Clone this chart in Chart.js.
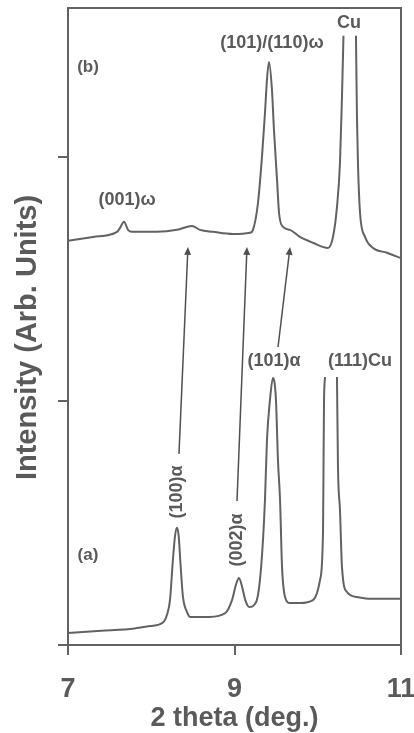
<!DOCTYPE html>
<html>
<head>
<meta charset="utf-8">
<script src="https://cdn.jsdelivr.net/npm/chart.js@4/dist/chart.umd.min.js"></script>
<style>
  html, body { margin: 0; padding: 0; background: #fff; }
  #wrap { width: 414px; height: 733px; }
</style>
</head>
<body>
<div id="wrap"><canvas id="xrd" width="414" height="733"></canvas></div>
<script>
const xTicks = [7, 9, 11];
const yTicks = [0, 1, 2];

// pattern (a) - alpha phase, bottom trace (null = top of the cut Cu peak)
const aX = [7.00, 7.40, 7.80, 7.99, 8.14, 8.19, 8.225, 8.26, 8.285, 8.309, 8.33, 8.35, 8.38, 8.43, 8.47,
  8.70, 8.89, 8.97, 9.02, 9.054, 9.09, 9.13, 9.175, 9.26, 9.32, 9.366, 9.39, 9.426, 9.462, 9.498,
  9.522, 9.547, 9.571, 9.607, 9.667, 9.787, 9.943, 10.027, 10.063, 10.069, 10.075, 10.087, 10.16,
  10.231, 10.243, 10.267, 10.291, 10.351, 10.471, 10.627, 11.00];
const aY = [0.049, 0.058, 0.068, 0.078, 0.092, 0.125, 0.184, 0.348, 0.445, 0.480, 0.445, 0.340, 0.200, 0.135, 0.115,
  0.115, 0.131, 0.184, 0.250, 0.275, 0.240, 0.184, 0.156, 0.176, 0.320, 0.594, 0.840, 1.004, 1.094, 1.004,
  0.758, 0.594, 0.320, 0.197, 0.172, 0.172, 0.184, 0.266, 0.459, 0.717, 0.992, 1.098, null,
  1.098, 0.730, 0.553, 0.320, 0.217, 0.197, 0.189, 0.189];

// pattern (b) - omega phase, top trace
const bX = [7.00, 7.30, 7.589, 7.625, 7.673, 7.721, 7.769, 8.069, 8.309, 8.489, 8.586, 8.742, 8.982, 9.186,
  9.222, 9.282, 9.330, 9.366, 9.390, 9.414, 9.450, 9.474, 9.511, 9.535, 9.583, 9.667, 9.787, 9.943,
  10.123, 10.183, 10.231, 10.267, 10.291, 10.309, 10.38, 10.459, 10.471, 10.483, 10.508, 10.568,
  10.664, 10.832, 11.00];
const bY = [1.656, 1.672, 1.693, 1.709, 1.734, 1.701, 1.693, 1.693, 1.701, 1.717, 1.701, 1.693, 1.684, 1.689,
  1.701, 1.811, 2.000, 2.180, 2.316, 2.389, 2.275, 2.111, 1.906, 1.770, 1.713, 1.701, 1.672, 1.648,
  1.627, 1.672, 1.795, 1.975, 2.246, 2.496, null, 2.496, 2.164, 1.975, 1.770, 1.672,
  1.627, 1.607, 1.585];

// peak labels
const noteText = ['(b)', 'Cu', '(101)/(110)\u03c9', '(001)\u03c9', '(101)\u03b1', '(111)Cu', '(100)\u03b1', '(002)\u03b1', '(a)'];
const noteX = [7.24, 10.375, 9.45, 7.709, 9.474, 10.508, 8.309, 9.030, 7.24];
const noteY = [2.369, 2.549, 2.467, 1.824, 1.165, 1.165, 0.627, 0.430, 0.369];
const noteTurn = [0, 0, 0, 0, 0, 0, 1, 1, 0];

// arrows from the alpha peaks up to pattern (b)
const arrowX0 = [8.333, 9.030, 9.523];
const arrowY0 = [0.783, 0.590, 1.221];
const arrowX1 = [8.441, 9.150, 9.667];
const arrowY1 = [1.631, 1.631, 1.631];

const yTitle = 'Intensity (Arb. Units)';

const INK = '#626262';
const TEXT = '#5a5a5a';
const FONT = "'Liberation Sans', Arial, sans-serif";

const toPts = (xs, ys) => xs.map((x, i) => ({ x: x, y: ys[i] }));

const extras = {
  id: 'extras',
  afterDraw(chart) {
    const { ctx, chartArea: a, scales: { x, y } } = chart;
    ctx.save();
    ctx.strokeStyle = INK;
    ctx.lineWidth = 2;
    ctx.strokeRect(a.left, a.top, a.right - a.left, a.bottom - a.top);

    // arrows
    ctx.fillStyle = '#505050';
    ctx.strokeStyle = '#505050';
    ctx.lineWidth = 1.5;
    arrowX0.forEach((v, i) => {
      const x0 = x.getPixelForValue(v), y0 = y.getPixelForValue(arrowY0[i]);
      const x1 = x.getPixelForValue(arrowX1[i]), y1 = y.getPixelForValue(arrowY1[i]);
      const ang = Math.atan2(y1 - y0, x1 - x0);
      ctx.beginPath();
      ctx.moveTo(x0, y0);
      ctx.lineTo(x1 - 5 * Math.cos(ang), y1 - 5 * Math.sin(ang));
      ctx.stroke();
      ctx.beginPath();
      ctx.moveTo(x1, y1);
      ctx.lineTo(x1 - 8 * Math.cos(ang) + 3.5 * Math.sin(ang), y1 - 8 * Math.sin(ang) - 3.5 * Math.cos(ang));
      ctx.lineTo(x1 - 8 * Math.cos(ang) - 3.5 * Math.sin(ang), y1 - 8 * Math.sin(ang) + 3.5 * Math.cos(ang));
      ctx.closePath();
      ctx.fill();
    });

    // labels
    ctx.fillStyle = TEXT;
    ctx.textAlign = 'center';
    ctx.textBaseline = 'middle';
    noteText.forEach((t, i) => {
      const px = x.getPixelForValue(noteX[i]), py = y.getPixelForValue(noteY[i]);
      const small = t === '(a)' || t === '(b)';
      ctx.font = 'bold ' + (small ? 17 : 18) + 'px ' + FONT;
      ctx.save();
      ctx.translate(px, py);
      if (noteTurn[i]) ctx.rotate(-Math.PI / 2);
      ctx.fillText(t, 0, 0);
      ctx.restore();
    });

    // y axis title, sits a little below the middle of the axis
    ctx.font = 'bold 29px ' + FONT;
    ctx.translate(a.left - 40, y.getPixelForValue(1.26));
    ctx.rotate(-Math.PI / 2);
    ctx.fillText(yTitle, 0, 0);
    ctx.restore();
  }
};

new Chart(document.getElementById('xrd'), {
  type: 'line',
  data: {
    datasets: [
      { label: '(a)', data: toPts(aX, aY) },
      { label: '(b)', data: toPts(bX, bY) }
    ]
  },
  options: {
    responsive: false,
    animation: false,
    spanGaps: false,
    layout: { padding: { top: 8, right: 13, left: 0, bottom: 0 } },
    elements: {
      point: { radius: 0 },
      line: { borderColor: INK, borderWidth: 2, cubicInterpolationMode: 'monotone', fill: false }
    },
    plugins: { legend: { display: false }, tooltip: { enabled: false } },
    scales: {
      x: {
        type: 'linear', min: 7, max: 11,
        afterBuildTicks: s => { s.ticks = xTicks.map(v => ({ value: v })); },
        // fixed height; let the "11" label hang into the right margin
        afterFit: s => { s.height = 88; s.paddingLeft = 0; s.paddingRight = 0; },
        grid: { drawOnChartArea: false, tickLength: 10, color: INK, lineWidth: 2 },
        border: { color: INK, width: 2 },
        ticks: { color: TEXT, padding: 18, maxRotation: 0, autoSkip: false, font: { family: FONT, size: 27, weight: 'bold' } },
        title: { display: true, text: '2 theta (deg.)', color: TEXT, padding: { top: 0, bottom: 1 },
          font: { family: FONT, size: 27, weight: 'bold', lineHeight: 1 } }
      },
      y: {
        type: 'linear', min: 0, max: 2.61,
        afterBuildTicks: s => { s.ticks = yTicks.map(v => ({ value: v })); },
        afterFit: s => { s.width = 68; },
        grid: { drawOnChartArea: false, tickLength: 10, color: INK, lineWidth: 2 },
        border: { color: INK, width: 2 },
        ticks: { display: false }
      }
    }
  },
  plugins: [extras]
});
</script>
</body>
</html>
